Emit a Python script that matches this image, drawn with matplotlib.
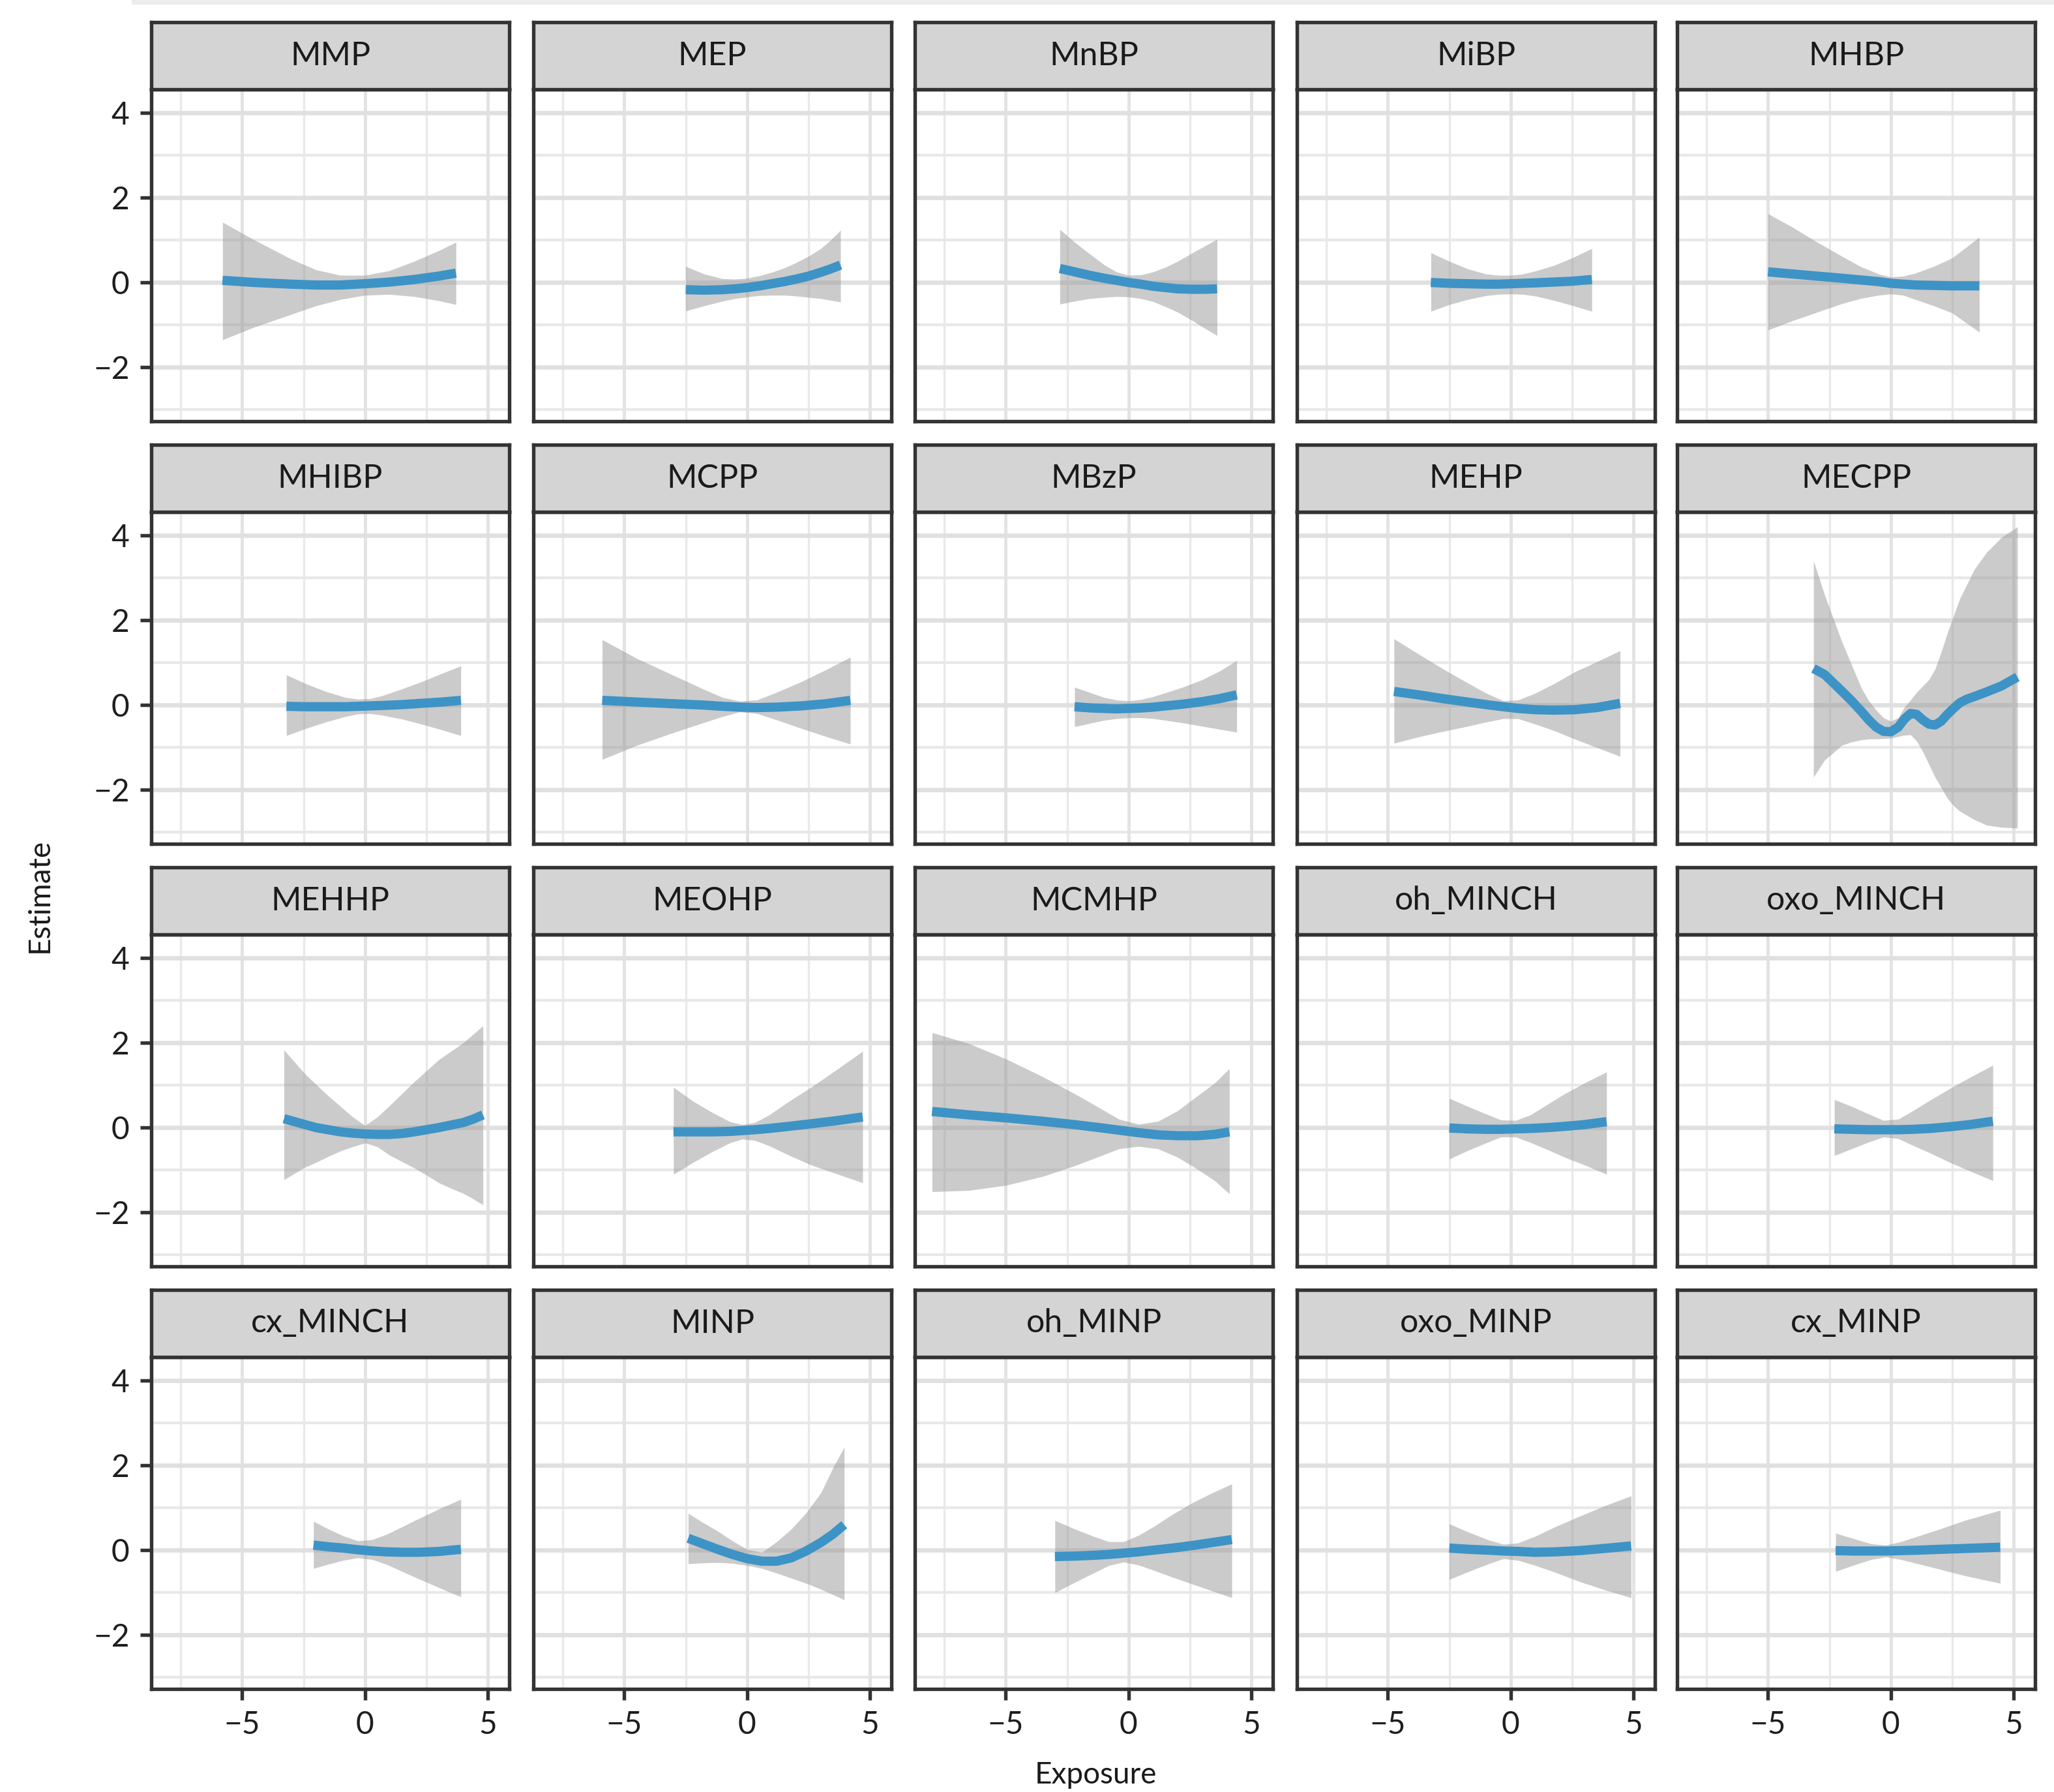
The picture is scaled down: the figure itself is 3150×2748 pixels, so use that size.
import matplotlib
matplotlib.use("Agg")
import matplotlib.pyplot as plt
from matplotlib.patches import Rectangle

plt.rcParams['font.family'] = ['Lato', 'DejaVu Sans']

# panel names, row by row
names = ["MMP", "MEP", "MnBP", "MiBP", "MHBP",
         "MHIBP", "MCPP", "MBzP", "MEHP", "MECPP",
         "MEHHP", "MEOHP", "MCMHP", "oh_MINCH", "oxo_MINCH",
         "cx_MINCH", "MINP", "oh_MINP", "oxo_MINP", "cx_MINP"]

# exposure positions
x_vals = [
    [-5.8, -4.5, -3, -2, -1, 0, 1, 2, 3, 3.7],
    [-2.5, -1.75, -1, -0.5, 0, 0.5, 1, 1.5, 2, 2.5, 3, 3.4, 3.8],
    [-2.8, -2.2, -1.6, -1, -0.5, 0, 0.5, 1, 1.5, 2, 2.6, 3.1, 3.6],
    [-3.25, -2.5, -1.75, -1, -0.5, 0, 0.5, 1, 1.75, 2.5, 3.3],
    [-5, -4, -3, -2, -1.25, -0.5, 0, 0.5, 1, 1.75, 2.5, 3.6],
    [-3.2, -2.4, -1.6, -0.8, -0.3, 0.2, 0.7, 1.5, 2.3, 3.1, 3.9],
    [-5.9, -4.5, -3, -1.8, -1, -0.3, 0.4, 1.2, 2.2, 3.2, 4.2],
    [-2.2, -1.5, -1, -0.5, 0, 0.5, 1, 1.5, 2.2, 3, 3.7, 4.4],
    [-4.75, -3.75, -2.75, -1.75, -1, -0.3, 0.3, 1, 1.75, 2.6, 3.5, 4.45],
    [-3.15, -2.7, -2.0, -1.6, -1.2, -0.9, -0.6, -0.3, 0.0, 0.3, 0.55, 0.8, 1.05, 1.3, 1.55, 1.8,
     2.05, 2.3, 2.55, 2.8, 3.1, 3.4, 3.9, 4.5, 5.15],
    [-3.3, -2.5, -2, -1.5, -1, -0.5, 0, 0.5, 1, 1.5, 2, 2.5, 3, 3.5, 4, 4.4, 4.8],
    [-3, -2.2, -1.4, -0.7, -0.2, 0.3, 0.9, 1.7, 2.6, 3.6, 4.7],
    [-8, -6.5, -5, -3.5, -2.2, -1.2, -0.4, 0.4, 1.2, 2, 2.8, 3.5, 4.1],
    [-2.5, -1.75, -1, -0.4, 0.2, 0.8, 1.5, 2.2, 3, 3.9],
    [-2.3, -1.6, -0.9, -0.3, 0.3, 0.9, 1.6, 2.4, 3.2, 4.15],
    [-2.1, -1.5, -0.9, -0.3, 0.3, 0.9, 1.5, 2.2, 3, 3.9],
    [-2.4, -1.8, -1.2, -0.6, 0, 0.6, 1.2, 1.8, 2.4, 3.0, 3.5, 3.95],
    [-3, -2.2, -1.4, -0.8, -0.2, 0.4, 1, 1.8, 2.6, 3.4, 4.2],
    [-2.5, -1.7, -0.9, -0.3, 0.3, 1, 1.8, 2.8, 3.8, 4.9],
    [-2.25, -1.5, -0.8, -0.2, 0.4, 1.1, 2, 3, 4.45],
]

# smooth estimate
fit_vals = [
    [0.05, 0.0, -0.04, -0.06, -0.06, -0.03, 0.01, 0.07, 0.15, 0.22],
    [-0.17, -0.18, -0.17, -0.15, -0.12, -0.08, -0.03, 0.02, 0.08, 0.15, 0.24, 0.32, 0.41],
    [0.33, 0.25, 0.17, 0.1, 0.05, 0.0, -0.04, -0.09, -0.12, -0.15, -0.16, -0.16, -0.15],
    [0.0, -0.02, -0.03, -0.04, -0.04, -0.03, -0.02, -0.01, 0.01, 0.03, 0.07],
    [0.25, 0.2, 0.15, 0.1, 0.06, 0.02, -0.02, -0.04, -0.06, -0.07, -0.08, -0.08],
    [-0.03, -0.04, -0.04, -0.04, -0.03, -0.02, -0.01, 0.01, 0.04, 0.07, 0.11],
    [0.11, 0.07, 0.03, 0.0, -0.03, -0.05, -0.06, -0.05, -0.02, 0.03, 0.11],
    [-0.04, -0.07, -0.08, -0.09, -0.08, -0.07, -0.05, -0.02, 0.02, 0.08, 0.15, 0.24],
    [0.32, 0.24, 0.15, 0.07, 0.01, -0.04, -0.08, -0.11, -0.12, -0.11, -0.06, 0.04],
    [0.86, 0.72, 0.33, 0.1, -0.15, -0.35, -0.52, -0.62, -0.63, -0.52, -0.33, -0.2, -0.22, -0.35,
     -0.45, -0.47, -0.38, -0.22, -0.08, 0.05, 0.14, 0.2, 0.31, 0.45, 0.66],
    [0.21, 0.08, 0.0, -0.05, -0.1, -0.13, -0.15, -0.16, -0.16, -0.14, -0.1, -0.05, 0.0, 0.06, 0.12,
     0.2, 0.3],
    [-0.1, -0.1, -0.1, -0.09, -0.07, -0.05, -0.02, 0.03, 0.09, 0.16, 0.25],
    [0.38, 0.3, 0.23, 0.15, 0.07, 0.0, -0.06, -0.12, -0.17, -0.19, -0.19, -0.16, -0.1],
    [-0.01, -0.03, -0.04, -0.04, -0.03, -0.02, 0.0, 0.03, 0.07, 0.14],
    [-0.03, -0.04, -0.05, -0.05, -0.05, -0.04, -0.02, 0.02, 0.07, 0.15],
    [0.12, 0.08, 0.05, 0.01, -0.02, -0.04, -0.05, -0.05, -0.03, 0.02],
    [0.28, 0.15, 0.02, -0.1, -0.2, -0.26, -0.26, -0.18, -0.02, 0.18, 0.38, 0.6],
    [-0.15, -0.14, -0.12, -0.1, -0.07, -0.04, 0.0, 0.05, 0.11, 0.18, 0.25],
    [0.05, 0.02, 0.0, -0.02, -0.03, -0.05, -0.04, -0.01, 0.04, 0.1],
    [-0.01, -0.02, -0.02, -0.02, -0.01, 0.0, 0.02, 0.04, 0.07],
]

# lower confidence band
lo_vals = [
    [-1.35, -1.05, -0.75, -0.55, -0.4, -0.3, -0.28, -0.33, -0.43, -0.52],
    [-0.67, -0.55, -0.44, -0.38, -0.34, -0.31, -0.3, -0.3, -0.32, -0.35, -0.38, -0.42, -0.46],
    [-0.51, -0.44, -0.38, -0.35, -0.33, -0.34, -0.38, -0.45, -0.57, -0.7, -0.9, -1.08, -1.25],
    [-0.68, -0.52, -0.4, -0.31, -0.28, -0.27, -0.28, -0.32, -0.42, -0.54, -0.68],
    [-1.12, -0.9, -0.7, -0.5, -0.38, -0.3, -0.27, -0.3, -0.4, -0.55, -0.72, -1.17],
    [-0.72, -0.55, -0.4, -0.27, -0.21, -0.2, -0.24, -0.33, -0.45, -0.58, -0.72],
    [-1.28, -0.95, -0.65, -0.42, -0.27, -0.16, -0.2, -0.35, -0.55, -0.74, -0.92],
    [-0.51, -0.42, -0.36, -0.32, -0.3, -0.3, -0.32, -0.36, -0.42, -0.5, -0.57, -0.64],
    [-0.9, -0.75, -0.62, -0.5, -0.4, -0.32, -0.32, -0.45, -0.6, -0.8, -1.0, -1.21],
    [-1.7, -1.3, -0.95, -0.87, -0.82, -0.8, -0.8, -0.79, -0.78, -0.74, -0.71, -0.7, -0.85, -1.1,
     -1.4, -1.7, -1.95, -2.2, -2.37, -2.5, -2.6, -2.7, -2.83, -2.88, -2.9],
    [-1.23, -0.95, -0.82, -0.68, -0.55, -0.45, -0.36, -0.45, -0.65, -0.8, -0.95, -1.12, -1.3, -1.43,
     -1.55, -1.68, -1.82],
    [-1.1, -0.82, -0.56, -0.36, -0.27, -0.3, -0.43, -0.65, -0.88, -1.08, -1.3],
    [-1.51, -1.48, -1.36, -1.15, -0.9, -0.68, -0.5, -0.44, -0.5, -0.7, -0.98, -1.25, -1.56],
    [-0.74, -0.54, -0.36, -0.22, -0.22, -0.35, -0.52, -0.7, -0.88, -1.1],
    [-0.66, -0.5, -0.34, -0.22, -0.26, -0.42, -0.6, -0.82, -1.02, -1.25],
    [-0.43, -0.33, -0.24, -0.18, -0.22, -0.34, -0.5, -0.68, -0.88, -1.1],
    [-0.32, -0.3, -0.29, -0.31, -0.36, -0.43, -0.54, -0.66, -0.78, -0.92, -1.05, -1.17],
    [-1.0, -0.76, -0.53, -0.36, -0.28, -0.35, -0.47, -0.64, -0.8, -0.96, -1.12],
    [-0.69, -0.5, -0.32, -0.2, -0.24, -0.36, -0.52, -0.74, -0.93, -1.12],
    [-0.5, -0.35, -0.22, -0.16, -0.22, -0.32, -0.45, -0.6, -0.78],
]

# upper confidence band
hi_vals = [
    [1.42, 1.0, 0.55, 0.3, 0.17, 0.17, 0.28, 0.5, 0.75, 0.95],
    [0.38, 0.2, 0.09, 0.08, 0.1, 0.16, 0.24, 0.34, 0.47, 0.62, 0.8, 1.0, 1.23],
    [1.25, 0.95, 0.68, 0.42, 0.25, 0.17, 0.18, 0.25, 0.36, 0.5, 0.7, 0.86, 1.02],
    [0.7, 0.5, 0.32, 0.2, 0.17, 0.17, 0.2, 0.27, 0.4, 0.58, 0.8],
    [1.62, 1.3, 0.95, 0.62, 0.38, 0.2, 0.13, 0.15, 0.22, 0.38, 0.58, 1.07],
    [0.71, 0.5, 0.32, 0.18, 0.14, 0.15, 0.22, 0.38, 0.55, 0.74, 0.92],
    [1.54, 1.1, 0.7, 0.38, 0.18, 0.09, 0.12, 0.3, 0.55, 0.83, 1.13],
    [0.42, 0.28, 0.18, 0.12, 0.1, 0.13, 0.2, 0.29, 0.42, 0.6, 0.8, 1.05],
    [1.56, 1.2, 0.85, 0.52, 0.28, 0.1, 0.12, 0.28, 0.5, 0.78, 1.02, 1.28],
    [3.4, 2.6, 1.5, 0.95, 0.4, 0.1, -0.12, -0.3, -0.38, -0.3, -0.05, 0.12, 0.3, 0.45, 0.6, 0.85,
     1.25, 1.7, 2.1, 2.5, 2.85, 3.2, 3.6, 3.95, 4.2],
    [1.83, 1.3, 1.02, 0.75, 0.5, 0.25, 0.05, 0.25, 0.52, 0.8, 1.08, 1.34, 1.6, 1.8, 2.0, 2.2, 2.4],
    [0.95, 0.62, 0.35, 0.14, 0.07, 0.12, 0.3, 0.62, 0.95, 1.35, 1.8],
    [2.24, 1.98, 1.62, 1.2, 0.8, 0.47, 0.2, 0.08, 0.15, 0.4, 0.75, 1.05, 1.39],
    [0.69, 0.5, 0.32, 0.18, 0.17, 0.3, 0.55, 0.8, 1.05, 1.31],
    [0.66, 0.5, 0.32, 0.17, 0.2, 0.4, 0.65, 0.92, 1.18, 1.47],
    [0.68, 0.5, 0.34, 0.22, 0.25, 0.38, 0.55, 0.75, 0.97, 1.2],
    [0.87, 0.65, 0.45, 0.22, 0.02, -0.05, 0.2, 0.5, 0.88, 1.35, 1.95, 2.43],
    [0.7, 0.5, 0.32, 0.2, 0.2, 0.35, 0.55, 0.85, 1.12, 1.35, 1.56],
    [0.62, 0.42, 0.24, 0.14, 0.17, 0.33, 0.55, 0.8, 1.04, 1.28],
    [0.4, 0.27, 0.15, 0.12, 0.2, 0.33, 0.5, 0.7, 0.94],
]

x_ticks = [-5, 0, 5]
y_ticks = [-2, 0, 2, 4]

W, H = 3150, 2748
fig = plt.figure(figsize=(W / 300, H / 300), dpi=300)

# faint band along the top edge, as in the source image
fig.patches.append(Rectangle((202 / W, 1 - 7 / H), 1 - 202 / W, 7 / H,
                             transform=fig.transFigure, color='#ececec', lw=0))

col_left = [232, 818, 1403, 1989, 2572]
panel_w = 549
strip_h = 103
panel_h = 509
row_pitch = 648
edge = '#333333'

for i, name in enumerate(names):
    r, c = divmod(i, 5)
    strip_top = 34 + r * row_pitch
    left = col_left[c] / W
    ax = fig.add_axes([left, 1 - (strip_top + strip_h + panel_h) / H,
                       panel_w / W, panel_h / H])
    sax = fig.add_axes([left, 1 - (strip_top + strip_h) / H,
                        panel_w / W, strip_h / H])

    # strip
    sax.set_facecolor('#d4d4d4')
    sax.set_xticks([])
    sax.set_yticks([])
    for sp in sax.spines.values():
        sp.set_color(edge)
        sp.set_linewidth(1.3)
    sax.text(0.5, 0.5, name, ha='center', va='center', fontsize=12,
             color='#1a1a1a', transform=sax.transAxes)

    # panel
    ax.set_xlim(-8.7, 5.87)
    ax.set_ylim(-3.27, 4.55)
    for v in [-7.5, -2.5, 2.5]:
        ax.axvline(v, color='#e9e9e9', lw=0.8, zorder=0)
    for v in [-3, -1, 1, 3]:
        ax.axhline(v, color='#e8e8e8', lw=1.0, zorder=0)
    for v in x_ticks:
        ax.axvline(v, color='#e3e3e3', lw=1.2, zorder=0)
    for v in y_ticks:
        ax.axhline(v, color='#e0e0e0', lw=1.6, zorder=0)

    ax.fill_between(x_vals[i], lo_vals[i], hi_vals[i], color='#999999',
                    alpha=0.5, lw=0, zorder=2)
    ax.plot(x_vals[i], fit_vals[i], color='#3d93c5', lw=3.4,
            solid_capstyle='butt', solid_joinstyle='round', zorder=3)

    for sp in ax.spines.values():
        sp.set_color(edge)
        sp.set_linewidth(1.3)
        sp.set_zorder(4)

    ax.set_xticks(x_ticks)
    ax.set_yticks(y_ticks)
    ax.tick_params(length=4, width=1.3, color=edge, pad=4,
                   labelsize=11.5, labelcolor='#1e1e1e')
    if c == 0:
        ax.set_yticklabels(['\u22122', '0', '2', '4'])
    else:
        ax.tick_params(axis='y', left=False, labelleft=False)
    if r == 3:
        ax.set_xticklabels(['\u22125', '0', '5'])
    else:
        ax.tick_params(axis='x', bottom=False, labelbottom=False)

fig.text(61 / W, 1 - 1373 / H, 'Estimate', rotation=90, ha='center',
         va='center', fontsize=11, color='#1a1a1a')
fig.text(1680 / W, 1 - 2722 / H, 'Exposure', ha='center', va='center',
         fontsize=11, color='#1a1a1a')

fig.savefig('out.png', dpi=300)
